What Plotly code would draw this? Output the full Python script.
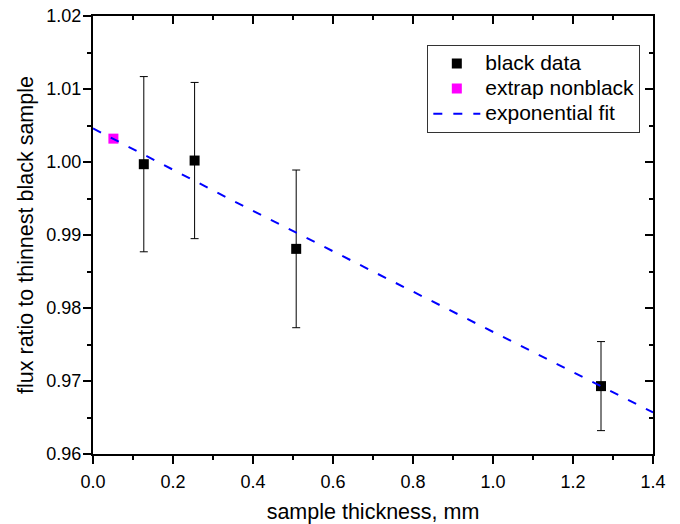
import plotly.graph_objects as go

# data
black_x = [0.127, 0.254, 0.508, 1.27]
black_y = [0.9997, 1.0002, 0.9881, 0.9693]
black_err = [0.0120, 0.0107, 0.0108, 0.0061]

nonblack_x = [0.051]
nonblack_y = [1.0032]

fit_x = [0.0, 0.35, 0.7, 1.05, 1.4]
fit_y = [1.0046, 0.9947, 0.9850, 0.9753, 0.9657]

x_range = [0.0, 1.4]
y_range = [0.96, 1.02]

series_names = ["black data", "extrap nonblack", "exponential fit"]

FONT = "Liberation Sans, Arial, sans-serif"


def legend_label(text):
    return "<span style='font-size:21px'>" + text + "</span>"


fig = go.Figure()

fig.add_trace(go.Scatter(
    x=black_x, y=black_y, mode="markers", name=legend_label(series_names[0]),
    marker=dict(symbol="square", size=10, color="black"),
    error_y=dict(type="data", array=black_err, visible=True,
                 color="black", thickness=1, width=4),
))
fig.add_trace(go.Scatter(
    x=nonblack_x, y=nonblack_y, mode="markers", name=legend_label(series_names[1]),
    marker=dict(symbol="square", size=10, color="#FF00FF"),
))
fig.add_trace(go.Scatter(
    x=fit_x, y=fit_y, mode="lines", name=legend_label(series_names[2]),
    line=dict(color="#0000FF", width=2, dash="9px,11px"),
))
# invisible trace to host the mirrored (inward-tick) top/right axes
fig.add_trace(go.Scatter(
    x=[None], y=[None], xaxis="x2", yaxis="y2", showlegend=False,
    hoverinfo="skip", mode="markers",
))

axis_common = dict(
    showgrid=False, zeroline=False, showline=True,
    linecolor="black", linewidth=2, automargin=False,
    tickcolor="black", tickwidth=1.5,
)

fig.update_layout(
    width=680, height=524,
    margin=dict(l=93, r=27, t=16, b=70),
    paper_bgcolor="white", plot_bgcolor="white",
    font=dict(family=FONT, size=18, color="black"),
    xaxis=dict(
        range=x_range, dtick=0.2, tick0=0, tickformat=".1f",
        ticks="outside", ticklen=8, ticklabelstandoff=2,
        ticklabeloverflow="allow",
        minor=dict(dtick=0.1, ticks="outside", ticklen=4,
                   tickcolor="black", tickwidth=1.5),
        title=dict(text="sample thickness, mm", font=dict(size=21.5), standoff=16),
        tickfont=dict(size=18),
        **axis_common,
    ),
    yaxis=dict(
        range=y_range, dtick=0.01, tick0=0.96, tickformat=".2f",
        ticks="outside", ticklen=8, ticklabelstandoff=-2,
        ticklabeloverflow="allow",
        minor=dict(dtick=0.005, ticks="outside", ticklen=4,
                   tickcolor="black", tickwidth=1.5),
        title=dict(text="flux ratio to thinnest black sample",
                   font=dict(size=21.5), standoff=7),
        tickfont=dict(size=18),
        **axis_common,
    ),
    xaxis2=dict(
        range=x_range, dtick=0.2, tick0=0, overlaying="x", side="top",
        anchor="y2", showticklabels=False,
        ticks="inside", ticklen=8,
        minor=dict(dtick=0.1, ticks="inside", ticklen=4,
                   tickcolor="black", tickwidth=1.5),
        **axis_common,
    ),
    yaxis2=dict(
        range=y_range, dtick=0.01, tick0=0.96, overlaying="y", side="right",
        anchor="x2", showticklabels=False,
        ticks="inside", ticklen=8,
        minor=dict(dtick=0.005, ticks="inside", ticklen=4,
                   tickcolor="black", tickwidth=1.5),
        **axis_common,
    ),
    legend=dict(
        x=0.597, y=0.934, xanchor="left", yanchor="top",
        bgcolor="white", bordercolor="#333333", borderwidth=1,
        font=dict(size=17), tracegroupgap=0, itemwidth=47,
    ),
    showlegend=True,
)

fig.write_html(
    "out.html",
    config={"displayModeBar": False},
    post_script="document.body.style.margin='0';",
)
